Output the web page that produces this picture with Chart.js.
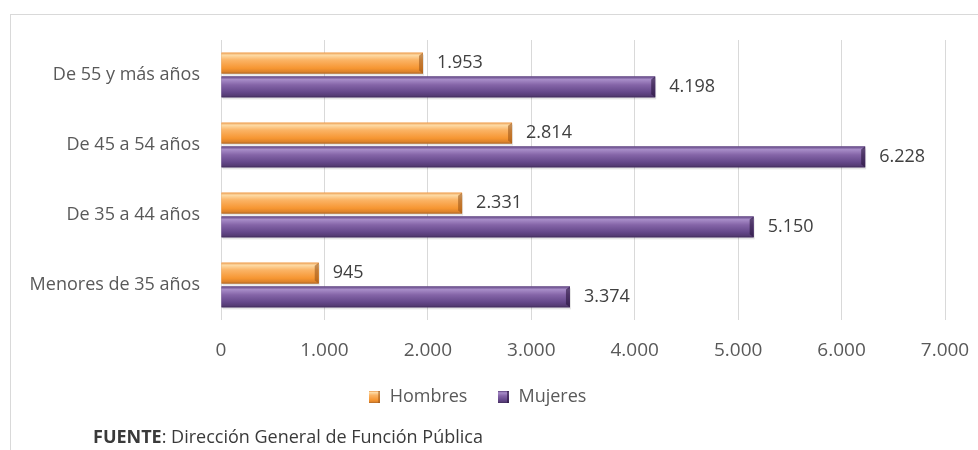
<!DOCTYPE html>
<html>
<head>
<meta charset="utf-8">
<script src="https://cdn.jsdelivr.net/npm/chart.js@4.4.1/dist/chart.umd.min.js"></script>
<style>
  html, body { margin: 0; padding: 0; background: #fff; }
  #wrap { position: relative; width: 978px; height: 450px; overflow: hidden; }
  #frame { position: absolute; left: 10px; top: 14px; right: -2px; bottom: -2px;
           border-left: 1px solid #d9d9d9; border-top: 1px solid #d9d9d9; }
  #c { position: absolute; left: 0; top: 0; }
  #src { position: absolute; left: 93px; top: 424px; font-family: "Open Sans", sans-serif;
         font-size: 18px; color: #3a3a3a; white-space: nowrap; line-height: 24px; }
  #src b { font-weight: 700; }
</style>
</head>
<body>
<div id="wrap">
  <div id="frame"></div>
  <canvas id="c" width="978" height="450"></canvas>
  <div id="src"><b>FUENTE</b>: Dirección General de Función Pública</div>
</div>
<script>
const categories = ["De 55 y más años", "De 45 a 54 años", "De 35 a 44 años", "Menores de 35 años"];
const hombres = [1953, 2814, 2331, 945];
const mujeres = [4198, 6228, 5150, 3374];
const tickValues = [0, 1000, 2000, 3000, 4000, 5000, 6000, 7000];

const fmt = v => String(v).replace(/\B(?=(\d{3})+(?!\d))/g, ".");

const palettes = {
  orange: { base: "#F79A3A", stops: [[0, "#EC9A4C"], [0.12, "#FDDBA6"], [0.35, "#FBB466"], [0.75, "#F69632"], [0.92, "#DB822B"], [1, "#A8652A"]], cap: "rgba(150,80,20,0.55)" },
  purple: { base: "#6E5090", stops: [[0, "#5E4380"], [0.15, "#A88DC8"], [0.4, "#8565A8"], [0.75, "#65488A"], [0.92, "#553B74"], [1, "#3E2A58"]], cap: "rgba(40,20,60,0.6)" }
};

function legendIcon(p) {
  const cv = document.createElement("canvas");
  cv.width = 11; cv.height = 12;
  const g = cv.getContext("2d");
  const gr = g.createLinearGradient(0, 0, 0, 12);
  p.stops.forEach(s => gr.addColorStop(s[0], s[1]));
  g.fillStyle = gr; g.fillRect(0, 0, 11, 12);
  g.fillStyle = p.cap; g.fillRect(9, 0, 2, 12);
  return cv;
}

const bevelPlugin = {
  id: "bevel",
  afterDatasetsDraw(chart) {
    const ctx = chart.ctx;
    chart.data.datasets.forEach((ds, di) => {
      const meta = chart.getDatasetMeta(di);
      const p = palettes[ds.paletteName];
      meta.data.forEach(el => {
        const { x, y, base, height } = el.getProps(["x", "y", "base", "height"], true);
        const top = y - height / 2;
        ctx.save();
        ctx.fillStyle = "rgba(0,0,0,0.10)";
        ctx.fillRect(base + 1, top + 2, x - base, height);
        const gr = ctx.createLinearGradient(0, top, 0, top + height);
        p.stops.forEach(s => gr.addColorStop(s[0], s[1]));
        ctx.fillStyle = gr;
        ctx.fillRect(base, top, x - base, height);
        ctx.fillStyle = p.cap;
        ctx.beginPath();
        ctx.moveTo(x - 4, top + 3);
        ctx.lineTo(x, top);
        ctx.lineTo(x, top + height);
        ctx.lineTo(x - 4, top + height - 3);
        ctx.closePath();
        ctx.fill();
        ctx.restore();
      });
    });
  },
  afterDraw(chart) {
    const ctx = chart.ctx;
    ctx.save();
    ctx.font = "18px 'Open Sans', sans-serif";
    ctx.fillStyle = "#404040";
    ctx.textAlign = "left";
    ctx.textBaseline = "middle";
    chart.data.datasets.forEach((ds, di) => {
      const meta = chart.getDatasetMeta(di);
      meta.data.forEach((el, i) => {
        const { x, y } = el.getProps(["x", "y"], true);
        ctx.fillText(fmt(ds.data[i]), x + 14, y);
      });
    });
    ctx.restore();
  }
};

new Chart(document.getElementById("c"), {
  type: "bar",
  data: {
    labels: categories,
    datasets: [
      { label: "Hombres", data: hombres, paletteName: "orange", backgroundColor: palettes.orange.base,
        pointStyle: legendIcon(palettes.orange), categoryPercentage: 0.68, barPercentage: 0.88 },
      { label: "Mujeres", data: mujeres, paletteName: "purple", backgroundColor: palettes.purple.base,
        pointStyle: legendIcon(palettes.purple), categoryPercentage: 0.68, barPercentage: 0.88 }
    ]
  },
  options: {
    indexAxis: "y",
    responsive: false,
    animation: false,
    layout: { padding: { left: 10, right: 33, top: 40, bottom: 34 } },
    plugins: {
      legend: {
        position: "bottom",
        labels: {
          usePointStyle: true,
          boxWidth: 12,
          boxHeight: 12,
          padding: 30,
          color: "#595959",
          font: { family: "'Open Sans', sans-serif", size: 18 }
        }
      },
      tooltip: { enabled: false }
    },
    scales: {
      x: {
        min: 0, max: 7000,
        afterBuildTicks: s => { s.ticks = tickValues.map(v => ({ value: v })); },
        afterFit: s => { s.height = 38; s.paddingLeft = 0; s.paddingRight = 0; },
        grid: { color: "#d9d9d9", drawTicks: false },
        border: { display: false },
        ticks: {
          padding: 19,
          color: "#595959",
          font: { family: "'Open Sans', sans-serif", size: 19 },
          callback: v => fmt(v)
        }
      },
      y: {
        afterFit: s => { s.width = 211; s.paddingTop = 0; s.paddingBottom = 0; },
        grid: { display: false, drawTicks: false },
        border: { display: false },
        ticks: {
          padding: 21,
          color: "#595959",
          font: { family: "'Open Sans', sans-serif", size: 18 }
        }
      }
    }
  },
  plugins: [bevelPlugin]
});
</script>
</body>
</html>
